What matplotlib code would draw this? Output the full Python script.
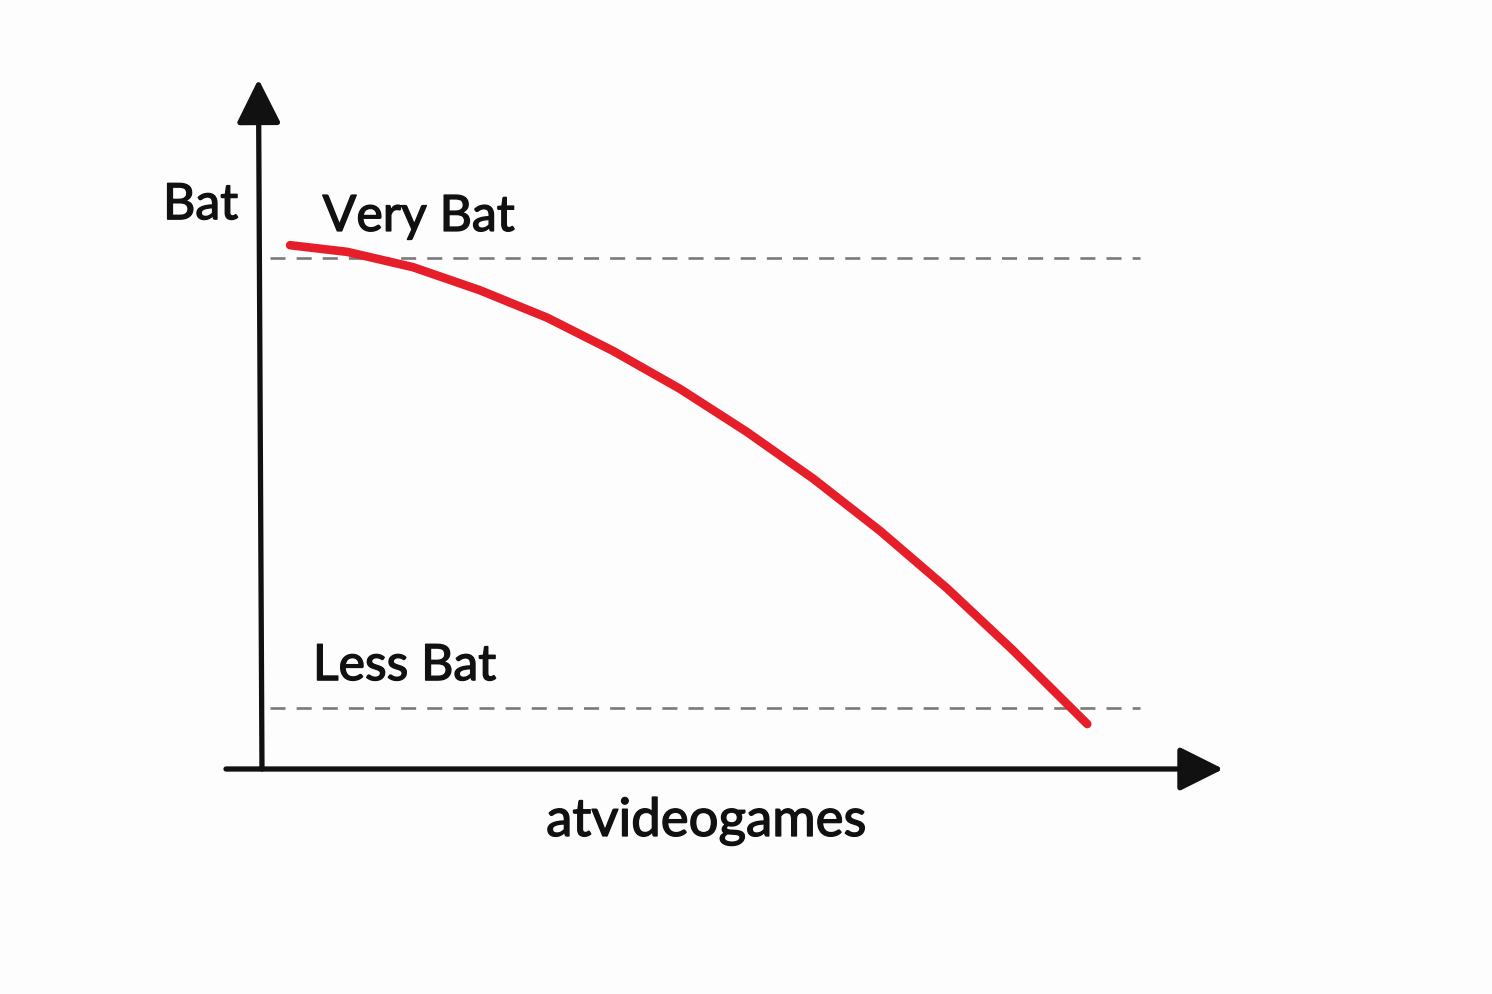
import numpy as np
import matplotlib.pyplot as plt
import matplotlib.patheffects as pe

# Curve (x: atvideogames, y: Bat)
curve_x = [0.32, 0.97, 1.72, 2.48, 3.25, 4.00, 4.76, 5.52, 6.28, 7.04, 7.80, 8.55, 9.40]
curve_y = [10.25, 10.12, 9.82, 9.37, 8.83, 8.18, 7.44, 6.60, 5.68, 4.66, 3.54, 2.33, 0.88]

levels = [10.0, 1.2]
level_labels = ["Very Bat", "Less Bat"]
x_label = "atvideogames"
y_label = "Bat"

plt.rcParams['font.family'] = ['Lato', 'DejaVu Sans']

fig = plt.figure(figsize=(14.92, 9.95), dpi=100)
fig.patch.set_facecolor('#fdfdfd')
ax = fig.add_axes([0, 0, 1, 1])
ax.set_xlim(-2.984, 14.01)
ax.set_ylim(-4.403, 15.068)
ax.axis('off')

# Reference levels.
for lev in levels:
    ax.plot([0.09, 10.0], [lev, lev], color='#7a7a7a', lw=1.9, dashes=(5.7, 4.2), zorder=1)

# Axes drawn as arrows.
arrow = dict(arrowstyle='-|>,head_length=27,head_width=13.5', mutation_scale=1,
             lw=3.8, color='#111111', shrinkA=0, shrinkB=0)
ax.annotate('', xy=(10.95, 0), xytext=(-0.41, 0), arrowprops=arrow, zorder=3)
ax.annotate('', xy=(-0.04, 13.5), xytext=(0, 0), arrowprops=arrow, zorder=3)

# The curve.
ax.plot(curve_x, curve_y, color='#e61e2a', lw=6.2, solid_capstyle='round',
        solid_joinstyle='round', zorder=2)

# Text.
txt = dict(va='baseline', color='#111111',
           path_effects=[pe.withStroke(linewidth=1.0, foreground='#111111')])
ax.text(-0.27, 10.76, y_label, ha='right', fontsize=36, **txt)
ax.text(0.69, 10.53, level_labels[0], ha='left', fontsize=36, **txt)
ax.text(0.58, 1.74, level_labels[1], ha='left', fontsize=36, **txt)
ax.text(5.06, -1.31, x_label, ha='center', fontsize=38, **txt)

fig.savefig('out.png', dpi=100, facecolor=fig.get_facecolor())
